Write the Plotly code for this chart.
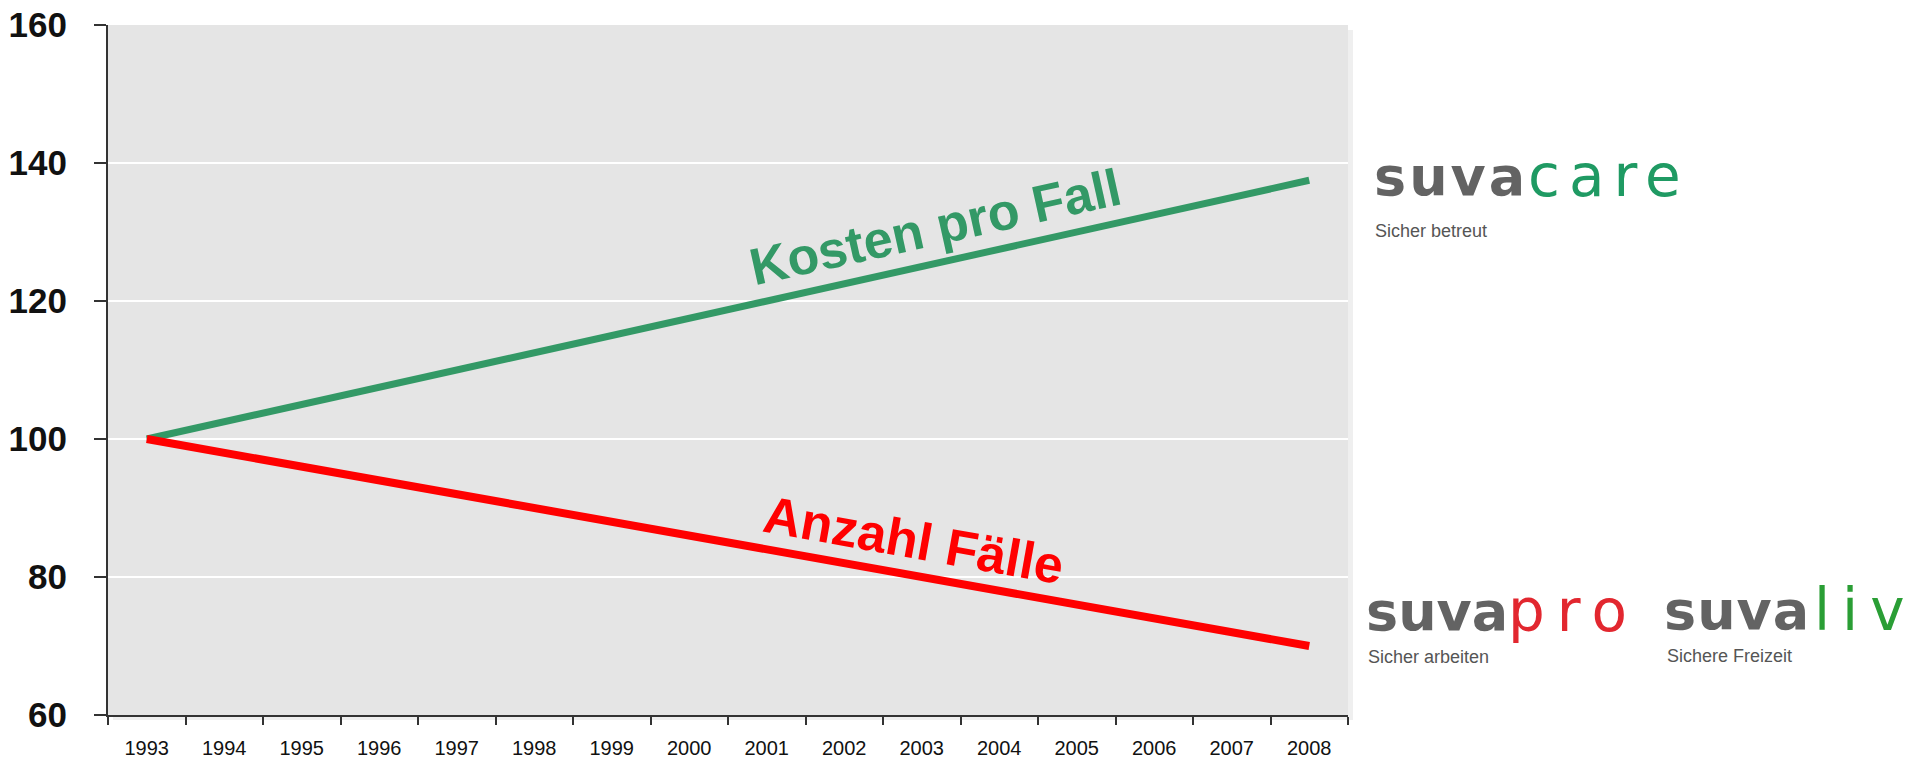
import plotly.graph_objects as go

# ---- data ----
years = ["1993", "1994", "1995", "1996", "1997", "1998", "1999", "2000",
         "2001", "2002", "2003", "2004", "2005", "2006", "2007", "2008"]
kosten_pro_fall = [100, 102.5, 105, 107.5, 110, 112.5, 115, 117.5,
                   120, 122.5, 125, 127.5, 130, 132.5, 135, 137.5]
anzahl_faelle = [100, 98, 96, 94, 92, 90, 88, 86,
                 84, 82, 80, 78, 76, 74, 72, 70]
y_ticks = [60, 80, 100, 120, 140, 160]

# ---- geometry (page pixels; the page body adds an 8px offset) ----
OFF = 8
W, H = 1924 - OFF, 764 - OFF
L, R, T, B = 108, 1348, 25, 715  # plot area in page pixels


def px(x):
    return (x - L) / (R - L)


def py(y):
    return (B - y) / (B - T)


FONT = "Liberation Sans, Arial, sans-serif"
GREEN = "#339966"
RED = "#ff0000"

fig = go.Figure()
fig.add_trace(go.Scatter(x=years, y=kosten_pro_fall, mode="lines",
                         line=dict(color=GREEN, width=7), hoverinfo="skip",
                         showlegend=False))
fig.add_trace(go.Scatter(x=years, y=anzahl_faelle, mode="lines",
                         line=dict(color=RED, width=8), hoverinfo="skip",
                         showlegend=False))

annotations = [
    dict(text="<b>Kosten pro Fall</b>", x=px(935), y=py(227), xref="paper", yref="paper",
         showarrow=False, textangle=-12.5, xanchor="center", yanchor="middle",
         font=dict(family=FONT, size=52, color=GREEN)),
    dict(text="<b>Anzahl Fälle</b>", x=px(913), y=py(540), xref="paper", yref="paper",
         showarrow=False, textangle=10.1, xanchor="center", yanchor="middle",
         font=dict(family=FONT, size=52, color=RED)),
]

LOGO_GREY = "#636363"


def logo(x_suva, x_word, y_mid, word, color, sub, x_sub, y_sub, sp_suva, sp_word):
    return [
        dict(text=f'<span style="letter-spacing:{sp_suva}px">suva</span>', x=px(x_suva), y=py(y_mid),
             xref="paper", yref="paper", showarrow=False, xanchor="left", yanchor="middle",
             font=dict(family="DejaVu Sans", size=54, color=LOGO_GREY, weight="bold")),
        dict(text=f'<span style="letter-spacing:{sp_word}px">{word}</span>', x=px(x_word), y=py(y_mid),
             xref="paper", yref="paper", showarrow=False, xanchor="left", yanchor="middle",
             font=dict(family="DejaVu Sans", size=58, color=color)),
        dict(text=sub, x=px(x_sub), y=py(y_sub), xref="paper", yref="paper",
             showarrow=False, xanchor="left", yanchor="middle",
             font=dict(family=FONT, size=18, color="#555555")),
    ]


annotations += logo(1372, 1526, 176, "care", "#1f9a63", "Sicher betreut", 1373, 231, 3, 9)
annotations += logo(1364, 1506, 611, "pro", "#e2272f", "Sicher arbeiten", 1366, 657, 0, 12)
annotations += logo(1662, 1812, 610, "liv", "#2a9e35", "Sichere Freizeit", 1665, 656, 1, 12)

shapes = [
    dict(type="rect", xref="paper", yref="paper", x0=1.0, x1=1.0 + 5 / (R - L),
         y0=-5 / (B - T), y1=1 - 5 / (B - T), fillcolor="#efefef", line=dict(width=0),
         layer="below"),
    dict(type="rect", xref="paper", yref="paper", x0=5 / (R - L), x1=1.0,
         y0=-5 / (B - T), y1=0, fillcolor="#efefef", line=dict(width=0),
         layer="below"),
]

fig.update_layout(
    width=W, height=H, autosize=False,
    margin=dict(l=L - OFF, r=1924 - R, t=T - OFF, b=764 - B, pad=0, autoexpand=False),
    paper_bgcolor="white", plot_bgcolor="#e5e5e5",
    showlegend=False,
    annotations=annotations,
    shapes=shapes,
    xaxis=dict(type="category", categoryorder="array", categoryarray=years,
               range=[-0.5, len(years) - 0.5], tickson="boundaries",
               ticks="outside", ticklen=8, tickwidth=2, tickcolor="#333333",
               showline=True, linecolor="#333333", linewidth=2, showgrid=False,
               tickfont=dict(family=FONT, size=20, color="#111111"),
               ticklabelstandoff=14, zeroline=False, fixedrange=True,
               automargin=False, ticklabeloverflow="allow"),
    yaxis=dict(range=[60, 160], tickvals=y_ticks, ticks="outside", ticklen=12,
               tickwidth=2, tickcolor="#333333", showline=True, linecolor="#333333",
               linewidth=2, showgrid=True, gridcolor="white", gridwidth=2,
               tickfont=dict(family=FONT, size=35, color="#111111", weight="bold"),
               ticklabelstandoff=20, zeroline=False, fixedrange=True,
               automargin=False, ticklabeloverflow="allow"),
)

fig.write_html("out.html")
